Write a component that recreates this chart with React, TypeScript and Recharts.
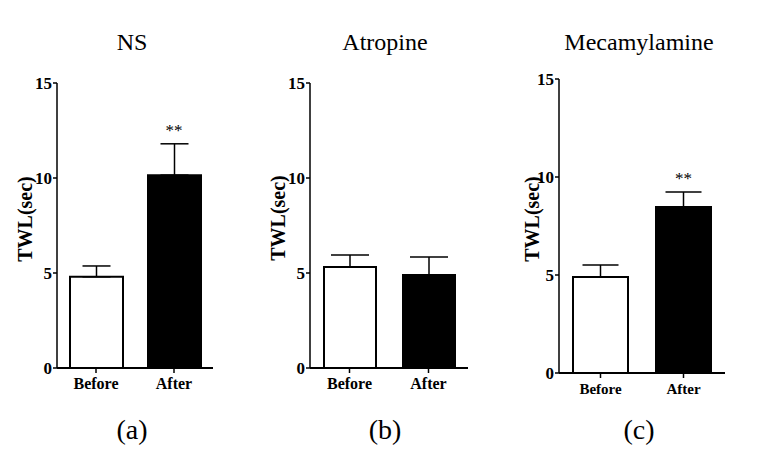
import React from 'react';
import { BarChart, Bar, XAxis, YAxis, ErrorBar, Cell, ReferenceDot } from 'recharts';

const categories = ['Before', 'After'];
const yTicks = [0, 5, 10, 15];
const barFills = ['#ffffff', '#000000'];

const nsMean = [4.8, 10.15];
const nsSem = [0.57, 1.65];
const nsSig = ['', '**'];

const atropineMean = [5.32, 4.9];
const atropineSem = [0.63, 0.94];
const atropineSig = ['', ''];

const mecMean = [4.9, 8.47];
const mecSem = [0.61, 0.76];
const mecSig = ['', '**'];

const titles = ['NS', 'Atropine', 'Mecamylamine'];
const letters = ['(a)', '(b)', '(c)'];
const yLabel = 'TWL(sec)';

const build = (means: number[], sems: number[], sig: string[]) =>
  categories.map((c, i) => ({ cat: c, mean: means[i], err: [0, sems[i]], top: means[i] + sems[i], sig: sig[i] }));

const panels = [
  { data: build(nsMean, nsSem, nsSig), left: 0, width: 250, margin: { top: 83, right: 37, bottom: 77, left: 27 }, barSize: 53, cap: 14, titleX: 132, labelX: 25, labelY: 219, xFont: 16 },
  { data: build(atropineMean, atropineSem, atropineSig), left: 250, width: 250, margin: { top: 83, right: 32, bottom: 77, left: 30 }, barSize: 52, cap: 19, titleX: 385, labelX: 278, labelY: 218, xFont: 16 },
  { data: build(mecMean, mecSem, mecSig), left: 500, width: 264, margin: { top: 79, right: 39, bottom: 72, left: 29 }, barSize: 55, cap: 18, titleX: 639, labelX: 532, labelY: 219, xFont: 15 },
];

const serif = '"Liberation Serif", "Times New Roman", serif';

export default function App() {
  return (
    <div style={{ position: 'absolute', left: 0, top: 0, width: 764, height: 475, background: '#fff', fontFamily: serif }}>
      {panels.map((p, pi) => (
        <React.Fragment key={pi}>
          <div style={{ position: 'absolute', left: p.left, top: 0 }}>
            <BarChart width={p.width} height={475} data={p.data} margin={p.margin}>
              <XAxis
                dataKey="cat"
                height={30}
                axisLine={{ stroke: '#000', strokeWidth: 2 }}
                tickLine={{ stroke: '#000', strokeWidth: 1.5 }}
                tickSize={5}
                tickMargin={5}
                tick={{ fill: '#000', fontFamily: serif, fontWeight: 'bold', fontSize: p.xFont }}
              />
              <YAxis
                width={30}
                domain={[0, 15]}
                ticks={yTicks}
                interval={0}
                axisLine={{ stroke: '#000', strokeWidth: 1.5 }}
                tickLine={{ stroke: '#000', strokeWidth: 1.5 }}
                tickSize={4}
                tickMargin={1}
                tick={{ fill: '#000', fontFamily: serif, fontWeight: 'bold', fontSize: 17 }}
              />
              <Bar dataKey="mean" barSize={p.barSize} stroke="#000" strokeWidth={2} isAnimationActive={false}>
                {p.data.map((d, i) => (
                  <Cell key={i} fill={barFills[i]} />
                ))}
                <ErrorBar dataKey="err" width={p.cap} stroke="#000" strokeWidth={1.5} direction="y" isAnimationActive={false} />
              </Bar>
              {p.data.filter((d) => d.sig).map((d, i) => (
                <ReferenceDot
                  key={i}
                  x={d.cat}
                  y={d.top}
                  r={0}
                  ifOverflow="visible"
                  label={{ value: d.sig, position: 'top', offset: 8, fill: '#000', fontFamily: serif, fontSize: 17 }}
                />
              ))}
            </BarChart>
          </div>
          <div style={{ position: 'absolute', left: p.titleX, top: 30, transform: 'translateX(-50%)', fontSize: 24, lineHeight: '24px', whiteSpace: 'nowrap', color: '#000' }}>
            {titles[pi]}
          </div>
          <div style={{ position: 'absolute', left: p.titleX, top: 416, transform: 'translateX(-50%)', fontSize: 28, lineHeight: '28px', whiteSpace: 'nowrap', color: '#000' }}>
            {letters[pi]}
          </div>
          <div style={{ position: 'absolute', left: p.labelX, top: p.labelY, transform: 'translate(-50%, -50%) rotate(-90deg)', fontSize: 20, fontWeight: 'bold', lineHeight: '20px', whiteSpace: 'nowrap', color: '#000' }}>
            {yLabel}
          </div>
        </React.Fragment>
      ))}
    </div>
  );
}
